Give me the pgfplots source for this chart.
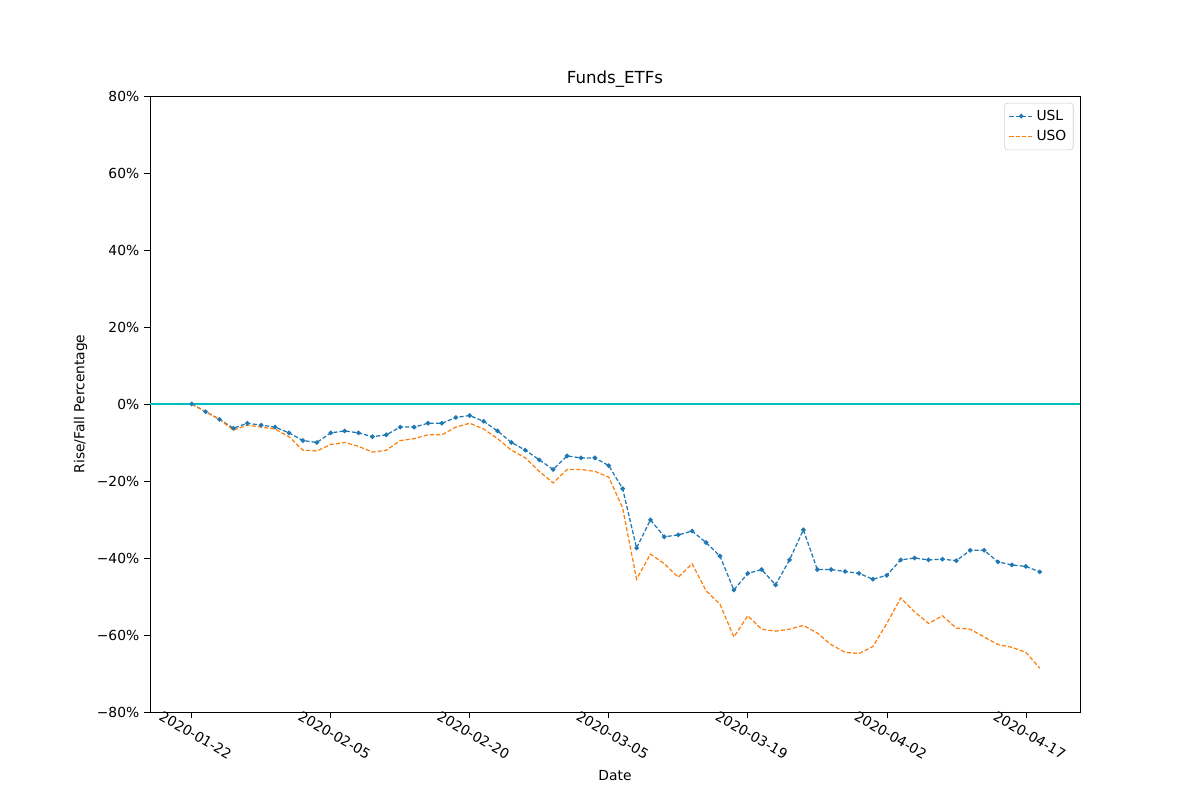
\documentclass[border=0pt]{standalone}
\usepackage{pgfplots}
\pgfplotsset{compat=1.18}
\usepackage{fontspec}
\setmainfont{DejaVu Sans}
\definecolor{c0}{HTML}{1F77B4}
\definecolor{c1}{HTML}{FF7F0E}
\definecolor{cc}{rgb}{0,0.75,0.75}
\begin{document}
\begin{tikzpicture}
\path (0,0) rectangle (12in,8in);
\begin{axis}[at={(1.5in,0.88in)},anchor=south west,scale only axis,
width=9.3in,height=6.16in,
xmin=-3,xmax=63.9,ymin=-80,ymax=80,
xtick={0,10,20,30,40,50,60},
xticklabels={2020-01-22,2020-02-05,2020-02-20,2020-03-05,2020-03-19,2020-04-02,2020-04-17},
xticklabel style={rotate=-30,anchor=north west,xshift=-24pt,yshift=-2pt},
ytick={-80,-60,-40,-20,0,20,40,60,80},
yticklabels={−80\%,−60\%,−40\%,−20\%,0\%,20\%,40\%,60\%,80\%},
tick align=outside, tick style={black,thin},
xtick pos=bottom, ytick pos=left,
font=\fontsize{10}{12}\selectfont,
title={Funds\_ETFs}, title style={font=\fontsize{12}{14}\selectfont,yshift=-3pt},
xlabel={Date}, ylabel={Rise/Fall Percentage},
legend style={at={(0.993,0.989)},anchor=north east,draw=black!20,rounded corners=2pt,font=\fontsize{10}{12}\selectfont,inner sep=3pt,row sep=2pt},
legend cell align=left,
]
\addplot[c0,line width=0.9pt,dash pattern=on 3pt off 1.5pt,mark=*,mark size=1.2pt,mark options={solid}] coordinates {
(0,0)(1,-2)(2,-4)(3,-6.3)(4,-5)(5,-5.5)(6,-6)(7,-7.5)(8,-9.5)(9,-10)
(10,-7.5)(11,-7)(12,-7.5)(13,-8.5)(14,-8)(15,-6)(16,-6)(17,-5)(18,-5)(19,-3.5)
(20,-3)(21,-4.5)(22,-7)(23,-10)(24,-12)(25,-14.5)(26,-17)(27,-13.5)(28,-14)(29,-14)
(30,-16)(31,-22)(32,-37.4)(33,-30.1)(34,-34.5)(35,-34)(36,-33)(37,-36)(38,-39.5)(39,-48.3)
(40,-44)(41,-43)(42,-47)(43,-40.5)(44,-32.7)(45,-43)(46,-43)(47,-43.5)(48,-44)(49,-45.5)
(50,-44.5)(51,-40.5)(52,-40)(53,-40.5)(54,-40.3)(55,-40.7)(56,-38)(57,-38)(58,-41)(59,-41.8)
(60,-42.2)(61,-43.6)};
\addlegendentry{USL}
\addplot[c1,line width=0.9pt,dash pattern=on 3pt off 1.5pt] coordinates {
(0,0)(1,-2)(2,-4)(3,-6.8)(4,-5.5)(5,-6)(6,-6.5)(7,-8.5)(8,-12)(9,-12.2)
(10,-10.5)(11,-10)(12,-11)(13,-12.5)(14,-12)(15,-9.5)(16,-9)(17,-8)(18,-8)(19,-6)
(20,-5)(21,-6.5)(22,-9)(23,-12)(24,-14)(25,-17.5)(26,-20.5)(27,-17)(28,-17)(29,-17.5)
(30,-19)(31,-27)(32,-45.5)(33,-39)(34,-41.5)(35,-45)(36,-41.5)(37,-48.5)(38,-52)(39,-60.5)
(40,-55)(41,-58.5)(42,-59)(43,-58.5)(44,-57.5)(45,-59.5)(46,-62.5)(47,-64.5)(48,-64.8)(49,-63)
(50,-57)(51,-50.4)(52,-54)(53,-57)(54,-55)(55,-58.2)(56,-58.5)(57,-60.5)(58,-62.5)(59,-63.2)
(60,-64.5)(61,-68.6)};
\addlegendentry{USO}
\addplot[cc,line width=0.9pt,forget plot] coordinates {(-3,0)(63.9,0)};
\end{axis}
\end{tikzpicture}
\end{document}
